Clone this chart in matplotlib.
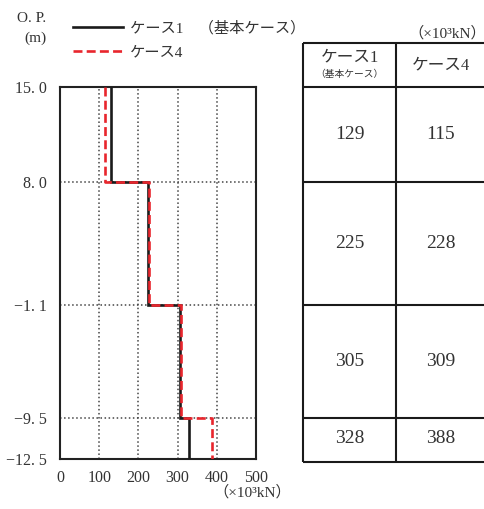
import numpy as np
import matplotlib
matplotlib.use("Agg")
import matplotlib.pyplot as plt

plt.rcParams['font.family'] = ['Liberation Serif', 'Noto Sans CJK JP']

# ---- data ----
elevations = [15.0, 8.0, -1.1, -9.5, -12.5]          # O.P. (m) segment boundaries
case1 = [129, 225, 305, 328]                          # ケース1 (基本ケース), x10^3 kN
case4 = [115, 228, 309, 388]                          # ケース4, x10^3 kN
x_ticks = [0, 100, 200, 300, 400, 500]
series_labels = ['ケース1　（基本ケース）', 'ケース4']

TXT = '#333333'

def step_path(vals, elev):
    v = np.repeat(vals, 2)
    e = np.array(elev)
    y = np.empty(len(v))
    y[0::2] = e[:-1]
    y[1::2] = e[1:]
    return v, y

fig = plt.figure(figsize=(4.85, 5.09), dpi=100)
ax = fig.add_axes([60/485, 50/509, 196/485, 372/509])
ax.set_xlim(0, 500)
ax.set_ylim(elevations[-1], elevations[0])

x1, y1 = step_path(case1, elevations)
x4, y4 = step_path(case4, elevations)
l1, = ax.plot(x1, y1, color='#1a1a1a', lw=1.9, solid_joinstyle='miter', zorder=3)
l4, = ax.plot(x4, y4, color='#e8262d', lw=1.9, dashes=(3.4, 1.6), zorder=4)

ax.set_xticks(x_ticks)
ax.set_xticklabels([str(t) for t in x_ticks])
ax.set_yticks(elevations)
ax.set_yticklabels([f"{v:.1f}".replace('.', '. ').replace('-', '\u2212') for v in elevations])
ax.tick_params(axis='both', length=0, labelsize=11.5, labelcolor=TXT)
ax.tick_params(axis='y', pad=9.5)
ax.tick_params(axis='x', pad=8)
ax.grid(True, linestyle=':', color='#444444', lw=1.1)
for s in ax.spines.values():
    s.set_linewidth(1.5)
    s.set_color('#222222')

fig.text(252/485, 1 - 492/509, '（×10³kN）', ha='center', va='center', fontsize=11, color=TXT)
fig.text(32/485, 1 - 18/509, 'O. P.', ha='center', va='center', fontsize=11, color=TXT)
fig.text(35/485, 1 - 38/509, '(m)', ha='center', va='center', fontsize=11, color=TXT)

fig.legend([l1, l4], series_labels, loc='upper left',
           bbox_to_anchor=(73/485, 1 - 21/509), frameon=False,
           handlelength=3.3, handletextpad=0.45, labelspacing=0.68,
           borderpad=0, borderaxespad=0, fontsize=11, labelcolor=TXT)

# ---- table ----
tab_top, tab_bot = 18.25, -12.72
tax = fig.add_axes([303/485, 47/509, 182/485, 419/509])
tax.set_xlim(0, 1)
tax.set_ylim(tab_bot, tab_top)
tax.axis('off')
div = 0.511
lw_t = 1.5
for yv in [tab_top] + elevations[:-1] + [tab_bot]:
    tax.plot([0, 1], [yv, yv], color='#1a1a1a', lw=lw_t, clip_on=False, solid_capstyle='butt')
for xv in [0, div]:
    tax.plot([xv, xv], [tab_bot, tab_top], color='#1a1a1a', lw=lw_t, clip_on=False, solid_capstyle='butt')

c1x, c4x = div/2, (div + 1)/2
tax.text(c1x, 17.2, 'ケース1', ha='center', va='center', fontsize=12, color=TXT)
tax.text(c1x, 15.9, '（基本ケース）', ha='center', va='center', fontsize=7, color=TXT)
tax.text(c4x, (tab_top + elevations[0])/2, 'ケース4', ha='center', va='center', fontsize=12, color=TXT)
for i in range(len(case1)):
    ym = (elevations[i] + elevations[i+1]) / 2
    tax.text(c1x, ym, str(case1[i]), ha='center', va='center', fontsize=14, color=TXT)
    tax.text(c4x, ym, str(case4[i]), ha='center', va='center', fontsize=14, color=TXT)

fig.text(447/485, 1 - 33/509, '（×10³kN）', ha='center', va='center', fontsize=11, color=TXT)

fig.savefig('out.png', dpi=100)
